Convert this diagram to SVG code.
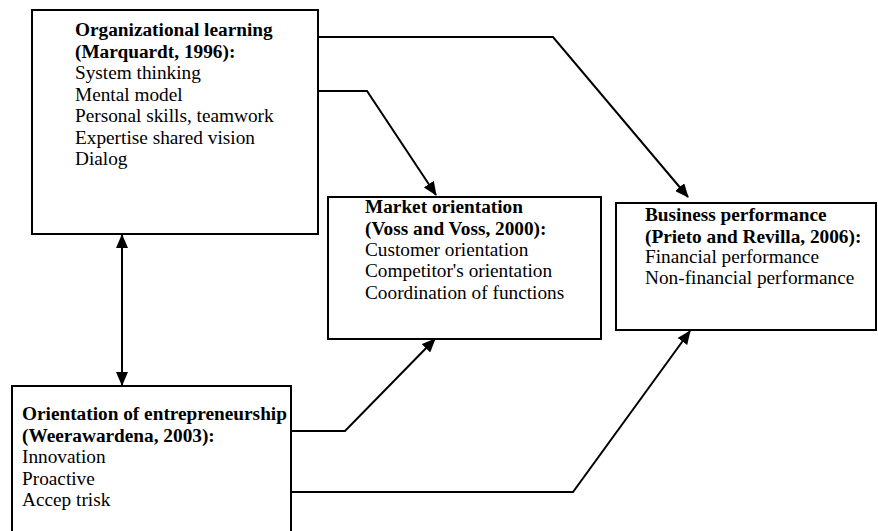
<svg xmlns="http://www.w3.org/2000/svg" width="878" height="531" viewBox="0 0 878 531">
<style>
  .box { fill: #ffffff; stroke: #000000; stroke-width: 2; }
  .t { font-family: "Liberation Serif", "Times New Roman", serif; font-size: 19.3px; fill: #000000; }
  .b { font-weight: bold; }
  .conn { fill: none; stroke: #000000; stroke-width: 2; }
</style>
<defs>
  <marker id="arr" markerUnits="userSpaceOnUse" markerWidth="14" markerHeight="12" refX="13" refY="6" orient="auto-start-reverse" viewBox="0 0 14 12">
    <path d="M0,0 L14,6 L0,12 z" fill="#000000"/>
  </marker>
</defs>
<rect x="0" y="0" width="878" height="531" fill="#ffffff"/>
<g id="connectors">
  <path class="conn" d="M318,37 L553,37 L688,197" marker-end="url(#arr)"/>
  <path class="conn" d="M318,91 L367,91 L436,195" marker-end="url(#arr)"/>
  <path class="conn" d="M291,431 L345,431 L435,339" marker-end="url(#arr)"/>
  <path class="conn" d="M291,492 L573,492 L690,331" marker-end="url(#arr)"/>
  <path class="conn" d="M122,235 L122,385" marker-start="url(#arr)" marker-end="url(#arr)"/>
</g>
<g id="organizational-learning">
  <rect class="box" x="32" y="10" width="286" height="224"/>
  <text class="t b" x="75" y="36">Organizational learning</text>
  <text class="t b" x="75" y="57.5">(Marquardt, 1996):</text>
  <text class="t" x="75" y="79">System thinking</text>
  <text class="t" x="75" y="100.5">Mental model</text>
  <text class="t" x="75" y="122">Personal skills, teamwork</text>
  <text class="t" x="75" y="143.5">Expertise shared vision</text>
  <text class="t" x="75" y="165">Dialog</text>
</g>
<g id="market-orientation">
  <rect class="box" x="328" y="197" width="273" height="142"/>
  <text class="t b" x="365" y="213">Market orientation</text>
  <text class="t b" x="365" y="234.5">(Voss and Voss, 2000):</text>
  <text class="t" x="365" y="256">Customer orientation</text>
  <text class="t" x="365" y="277">Competitor's orientation</text>
  <text class="t" x="365" y="298.5">Coordination of functions</text>
</g>
<g id="business-performance">
  <rect class="box" x="616" y="203" width="260" height="127"/>
  <text class="t b" x="645" y="221">Business performance</text>
  <text class="t b" x="645" y="242.5">(Prieto and Revilla, 2006):</text>
  <text class="t" x="645" y="263">Financial performance</text>
  <text class="t" x="645" y="284">Non-financial performance</text>
</g>
<g id="orientation-of-entrepreneurship">
  <rect class="box" x="12" y="386" width="279" height="150"/>
  <text class="t b" x="22" y="420">Orientation of entrepreneurship</text>
  <text class="t b" x="22" y="441.5">(Weerawardena, 2003):</text>
  <text class="t" x="22" y="463">Innovation</text>
  <text class="t" x="22" y="484.5">Proactive</text>
  <text class="t" x="22" y="506">Accep trisk</text>
</g>
</svg>
